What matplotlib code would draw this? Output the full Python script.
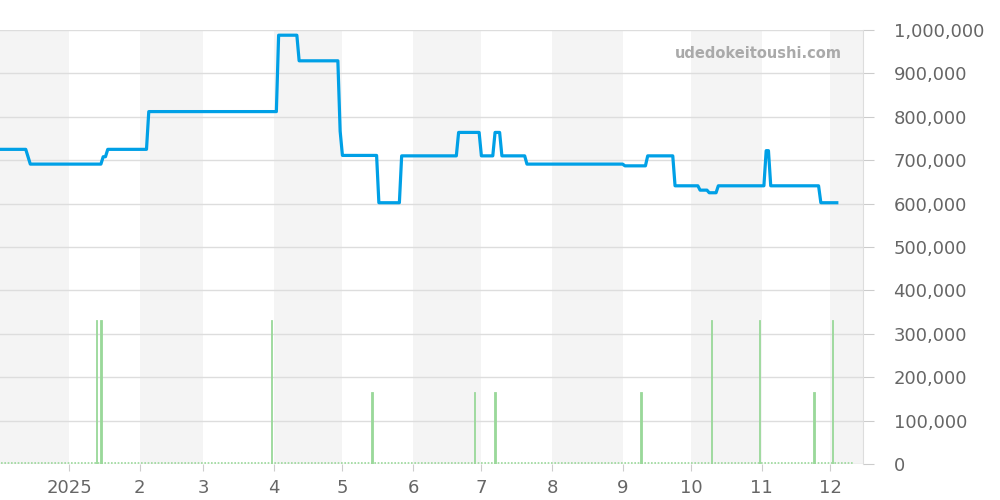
import matplotlib
matplotlib.use('Agg')
import matplotlib.pyplot as plt
import matplotlib.dates as mdates
import numpy as np
from datetime import datetime

# Price line vertices (date, yen)
price_dates = [
    '2024-12-02', '2024-12-13', '2024-12-15', '2025-01-15', '2025-01-16', '2025-01-17',
    '2025-01-18', '2025-02-04', '2025-02-05', '2025-04-02', '2025-04-03', '2025-04-11',
    '2025-04-12', '2025-04-29', '2025-04-30', '2025-05-01', '2025-05-16', '2025-05-17',
    '2025-05-26', '2025-05-27', '2025-06-20', '2025-06-21', '2025-06-30', '2025-07-01',
    '2025-07-06', '2025-07-07', '2025-07-09', '2025-07-10', '2025-07-20', '2025-07-21',
    '2025-09-01', '2025-09-02', '2025-09-11', '2025-09-12', '2025-09-23', '2025-09-24',
    '2025-10-04', '2025-10-05', '2025-10-08', '2025-10-09', '2025-10-12', '2025-10-13',
    '2025-11-02', '2025-11-03', '2025-11-04', '2025-11-05', '2025-11-26', '2025-11-27',
    '2025-12-04',
]
price_values = [
    725000, 725000, 691000, 691000, 708000, 708000,
    725000, 725000, 812000, 812000, 988000, 988000,
    929000, 929000, 767000, 711000, 711000, 602000,
    602000, 710000, 710000, 764000, 764000, 710000,
    710000, 764000, 764000, 710000, 710000, 691000,
    691000, 687000, 687000, 710000, 710000, 641000,
    641000, 631000, 631000, 625000, 625000, 641000,
    641000, 722000, 722000, 641000, 641000, 602000,
    602000,
]

# Trade volume bars
volume_dates = ['2025-01-13', '2025-01-15', '2025-03-31', '2025-05-14', '2025-06-28',
                '2025-07-07', '2025-09-09', '2025-10-10', '2025-10-31', '2025-11-24',
                '2025-12-02']
volume_values = [332000, 332000, 332000, 166000, 166000,
                 166000, 166000, 332000, 332000, 166000,
                 332000]

month_starts = ['2024-12-01', '2025-01-01', '2025-02-01', '2025-03-01', '2025-04-01',
                '2025-05-01', '2025-06-01', '2025-07-01', '2025-08-01', '2025-09-01',
                '2025-10-01', '2025-11-01', '2025-12-01', '2026-01-01']
tick_labels = ['2025', '2', '3', '4', '5', '6', '7', '8', '9', '10', '11', '12']

to_dt = lambda s: datetime.strptime(s, '%Y-%m-%d')
px = [to_dt(d) for d in price_dates]
vx = [to_dt(d) for d in volume_dates]
ms = [to_dt(d) for d in month_starts]

fig = plt.figure(figsize=(10, 5), dpi=100)
ax = fig.add_axes([0.0, 0.072, 0.863, 0.868])

jan1 = mdates.date2num(datetime(2025, 1, 1))
ax.set_xlim(jan1 - 30.3, jan1 + 348.5)
ax.set_ylim(0, 1_000_000)

# alternating month bands
for i in range(0, len(ms) - 1, 2):
    ax.axvspan(ms[i], ms[i + 1], color='#f4f4f4', lw=0, zorder=0)

ax.grid(axis='y', color='#dddddd', lw=1, zorder=1)
ax.set_axisbelow(True)

ax.bar(vx, volume_values, width=0.6, color='#9ad89a', edgecolor='#9ad89a', lw=0.6, zorder=3)
ax.hlines(2500, mdates.date2num(datetime(2024, 12, 2)), mdates.date2num(datetime(2025, 12, 11)),
          color='#9ad89a', lw=1.2, linestyles=(0, (1, 1)), zorder=3)
ax.plot(px, price_values, color='#00a0e6', lw=2.3, zorder=4)

ax.yaxis.tick_right()
ax.set_yticks(np.arange(0, 1_000_001, 100_000))
ax.set_yticklabels([f'{v:,}' for v in range(0, 1_000_001, 100_000)])

ax.set_xticks(ms[1:13])
ax.set_xticklabels(tick_labels)

for s in ['top', 'left', 'bottom']:
    ax.spines[s].set_visible(False)
ax.spines['right'].set_color('#dddddd')
ax.tick_params(axis='both', colors='#cccccc', labelcolor='#666666', labelsize=13, length=8)
ax.tick_params(axis='y', pad=14)
ax.tick_params(axis='x', length=5, pad=6)

ax.text(0.975, 0.945, 'udedokeitoushi.com', transform=ax.transAxes, ha='right', va='center',
        fontsize=10.5, fontweight='bold', color='#aaaaaa')

fig.savefig('out.png', dpi=100)
